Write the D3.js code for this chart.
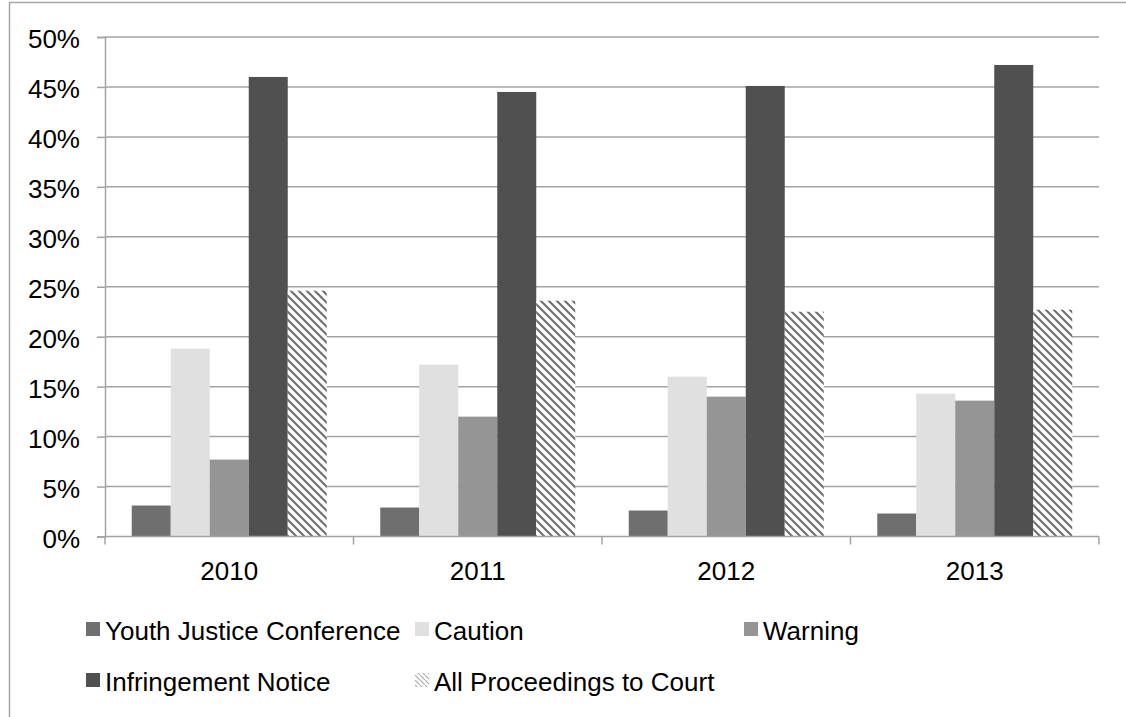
<!DOCTYPE html>
<html><head><meta charset="utf-8">
<script src="https://cdn.jsdelivr.net/npm/d3@7"></script>
<style>body{margin:0;background:#fff}svg{display:block}text{font-family:"Liberation Sans",Arial,sans-serif;fill:#000}</style>
</head><body><svg id="c" width="1126" height="717"></svg>
<script>
const categories = ["2010", "2011", "2012", "2013"];
const seriesNames = ["Youth Justice Conference", "Caution", "Warning", "Infringement Notice", "All Proceedings to Court"];
const youthJusticeConference = [3.1, 2.9, 2.6, 2.3];
const caution = [18.8, 17.2, 16.0, 14.3];
const warning = [7.7, 12.0, 14.0, 13.6];
const infringementNotice = [46.0, 44.5, 45.1, 47.2];
const allProceedingsToCourt = [24.6, 23.6, 22.5, 22.7];
const yTicks = [0, 5, 10, 15, 20, 25, 30, 35, 40, 45, 50];

(function () {
const seriesValues = [youthJusticeConference, caution, warning, infringementNotice, allProceedingsToCourt];
const fills = ["#6f6f6f", "#e0e0e0", "#959595", "#505050", "url(#hatch)"];

const svg = d3.select("#c");
const defs = svg.append("defs");
const pat = defs.append("pattern").attr("id", "hatch").attr("patternUnits", "userSpaceOnUse")
  .attr("width", 8).attr("height", 8);
pat.append("rect").attr("width", 8).attr("height", 8).attr("fill", "#fff");
pat.append("path").attr("d", "M-2,-2 L10,10 M-2,6 L2,10 M6,-2 L10,2")
  .attr("stroke", "#707070").attr("stroke-width", 2.1);
const pat2 = defs.append("pattern").attr("id", "hatchLight").attr("patternUnits", "userSpaceOnUse")
  .attr("width", 5).attr("height", 5);
pat2.append("rect").attr("width", 5).attr("height", 5).attr("fill", "#fff");
pat2.append("path").attr("d", "M-1,-1 L6,6").attr("stroke", "#aaa").attr("stroke-width", 1.2);

// frame
svg.append("path").attr("d", "M9.5,717 L9.5,2.5 L1126,2.5").attr("fill", "none")
  .attr("stroke", "#a6a6a6").attr("stroke-width", 1.5);

const pLeft = 105, pRight = 1099, pTop = 37, pBottom = 536.5;
const x = d3.scaleBand().domain(categories).range([pLeft, pRight]).padding(0);
const xi = d3.scaleBand().domain(seriesNames).range([0, x.bandwidth()]).paddingInner(0).paddingOuter(0.686);
const y = d3.scaleLinear().domain([0, 50]).range([pBottom, pTop]);

const gridColor = "#a3a3a3";
svg.append("g").selectAll("line").data(yTicks.filter(d => d > 0)).join("line")
  .attr("x1", pLeft).attr("x2", pRight).attr("y1", d => y(d)).attr("y2", d => y(d))
  .attr("stroke", gridColor).attr("stroke-width", 1.5);

const yAxis = d3.axisLeft(y).tickValues(yTicks).tickFormat(d => d + "%").tickSize(8).tickPadding(17);
const gy = svg.append("g").attr("transform", `translate(${pLeft},0)`).call(yAxis);
gy.select(".domain").attr("stroke", gridColor).attr("stroke-width", 1.5);
gy.selectAll(".tick line").attr("stroke", gridColor).attr("stroke-width", 1.5);
gy.selectAll(".tick text").attr("font-size", 26).attr("font-family", "Liberation Sans, Arial, sans-serif").attr("fill", "#000").attr("dy", "0.42em");

seriesNames.forEach((s, si) => {
  svg.append("g").selectAll("rect").data(categories).join("rect")
    .attr("x", c => x(c) + xi(s))
    .attr("width", xi.bandwidth())
    .attr("y", (c, i) => y(seriesValues[si][i]))
    .attr("height", (c, i) => y(0) - y(seriesValues[si][i]))
    .attr("fill", fills[si]);
});

const gx = svg.append("g").attr("transform", `translate(0,${pBottom})`);
gx.append("line").attr("x1", pLeft).attr("x2", pRight).attr("stroke", gridColor).attr("stroke-width", 1.5);
const bounds = categories.map(c => x(c)).concat([x(categories[categories.length - 1]) + x.bandwidth()]);
gx.selectAll("line.t").data(bounds).join("line").attr("class", "t")
  .attr("x1", d => d).attr("x2", d => d).attr("y1", 0).attr("y2", 8)
  .attr("stroke", gridColor).attr("stroke-width", 1.5);
gx.selectAll("text").data(categories).join("text")
  .attr("x", c => x(c) + x.bandwidth() / 2).attr("y", 43)
  .attr("text-anchor", "middle").attr("font-size", 26).text(c => c);

const legCols = [86, 415, 744];
const legRows = [630, 681];
const lg = svg.append("g");
const legFills = ["#6f6f6f", "#e0e0e0", "#959595", "#505050", "url(#hatchLight)"];
seriesNames.forEach((s, i) => {
  const cx = legCols[i % 3], cy = legRows[Math.floor(i / 3)];
  lg.append("rect").attr("x", cx).attr("y", cy - 8).attr("width", 14).attr("height", 14).attr("fill", legFills[i]);
  lg.append("text").attr("x", cx + 19).attr("y", cy + 9.5).attr("font-size", 26).text(s);
});
})();
</script></body></html>
